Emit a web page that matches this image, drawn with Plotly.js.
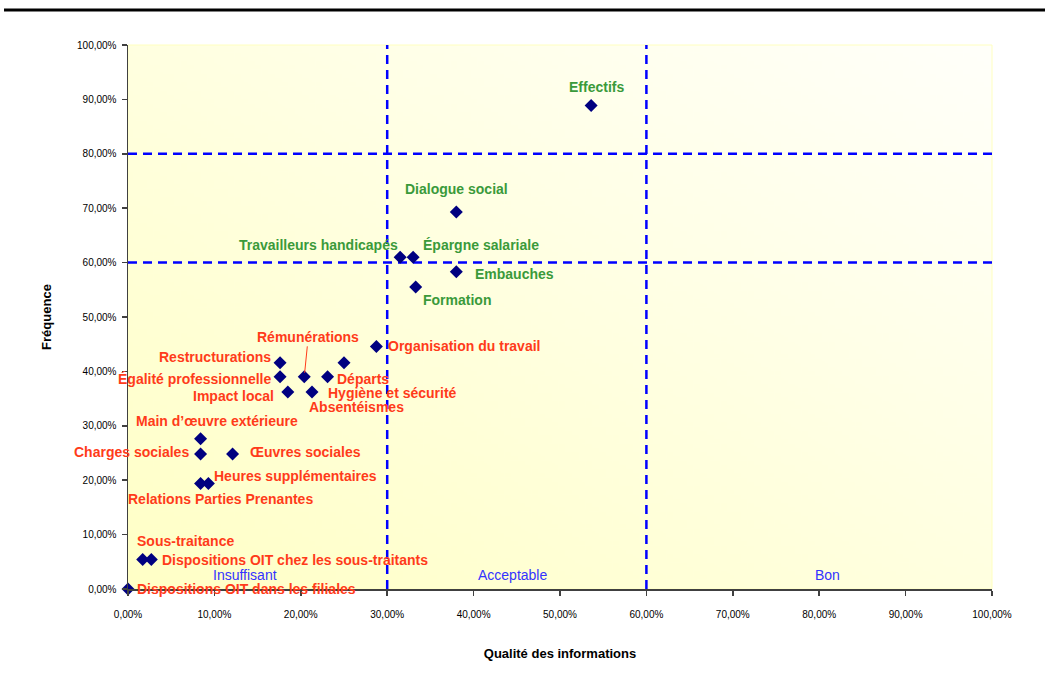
<!DOCTYPE html>
<html>
<head>
<meta charset="utf-8">
<script src="https://cdn.plot.ly/plotly-3.0.1.min.js"></script>
<style>
  html, body { margin: 0; padding: 0; background: #ffffff; }
  #chart { width: 1045px; height: 677px; }
</style>
</head>
<body>
<div id="chart"></div>
<script>
// Thèmes évalués : qualité des informations (x) et fréquence (y), en %
const themes = [
  'Effectifs', 'Dialogue social', 'Travailleurs handicapés', 'Épargne salariale',
  'Embauches', 'Formation', 'Organisation du travail', 'Restructurations',
  'Égalité professionnelle', 'Impact local', 'Rémunérations', 'Départs',
  'Hygiène et sécurité', 'Absentéismes', 'Main d’œuvre extérieure', 'Charges sociales',
  'Œuvres sociales', 'Heures supplémentaires', 'Relations Parties Prenantes', 'Sous-traitance',
  'Dispositions OIT chez les sous-traitants', 'Dispositions OIT dans les filiales'
];
const qualite = [
  53.6, 38.0, 31.5, 33.0,
  38.0, 33.3, 28.75, 17.6,
  17.6, 18.5, 20.4, 23.1,
  21.3, 25.0, 8.4, 8.4,
  12.1, 9.3, 8.4, 1.7,
  2.7, 0.0
];
const frequence = [
  88.9, 69.3, 61.0, 61.0,
  58.3, 55.5, 44.6, 41.6,
  39.0, 36.2, 39.0, 39.0,
  36.2, 41.6, 27.6, 24.8,
  24.8, 19.4, 19.4, 5.4,
  5.4, 0.0
];

// Seuils des zones et leurs libellés
const seuilsQualite = [30, 60];
const seuilsFrequence = [60, 80];
const zones = ['Insuffisant', 'Acceptable', 'Bon'];
const zonesX = [13.5, 44.5, 81.0];

// Graduations des axes
const tickPct = [0, 10, 20, 30, 40, 50, 60, 70, 80, 90, 100];
const tickText = ['0,00%', '10,00%', '20,00%', '30,00%', '40,00%', '50,00%',
                  '60,00%', '70,00%', '80,00%', '90,00%', '100,00%'];

// Placement des étiquettes autour des points (ancrage, décalage en px)
const placement = [
  ['center', 5, 18], ['center', 0, 23], ['right', 0, 12], ['left', 8, 12],
  ['left', 17, -2], ['left', 5, -13], ['left', 10, 0], ['right', -7, 6],
  ['right', -7, -2], ['right', -12, -4], ['arrow', 4, -40], ['left', 7, -2],
  ['left', 14, -1], ['center', 12, -44], ['center', 16, 18], ['right', -10, 2],
  ['left', 15, 2], ['left', 4, 7], ['center', 20, -16], ['left', -8, 19],
  ['left', 9, 0], ['left', 7, 0]
];

const SANS = '"Liberation Sans", Arial, sans-serif';
const ROUGE = '#FF3B1A';
const VERT = '#3A9A3A';
const BLEU = '#0000FF';

// Fond dégradé de la zone de tracé
function fondDegrade() {
  const c = document.createElement('canvas');
  c.width = 256; c.height = 256;
  const g = c.getContext('2d');
  const grad = g.createLinearGradient(0, 256, 256, 0);
  grad.addColorStop(0, '#FFFFC6');
  grad.addColorStop(1, '#FFFFFA');
  g.fillStyle = grad;
  g.fillRect(0, 0, 256, 256);
  return c.toDataURL('image/png');
}

const annotations = themes.map((t, i) => {
  const [anchor, dx, dy] = placement[i];
  const color = frequence[i] >= 50 ? VERT : ROUGE;
  const base = {
    x: qualite[i], y: frequence[i], xref: 'x', yref: 'y', text: t,
    font: { family: SANS, size: 14, color: color, weight: 'bold' }
  };
  if (anchor === 'arrow') {
    return Object.assign(base, {
      showarrow: true, ax: dx, ay: dy, arrowhead: 0, arrowwidth: 1,
      arrowcolor: color, standoff: 4
    });
  }
  return Object.assign(base, {
    showarrow: false, xanchor: anchor, yanchor: 'middle', xshift: dx, yshift: dy
  });
});

zones.forEach((z, i) => {
  annotations.push({
    x: zonesX[i], y: 2.5, xref: 'x', yref: 'y', text: z, showarrow: false,
    font: { family: SANS, size: 14, color: '#3333FF' }
  });
});

const shapes = [];
seuilsQualite.forEach(v => shapes.push({
  type: 'line', xref: 'x', yref: 'y', x0: v, x1: v, y0: 0, y1: 100, layer: 'below',
  line: { color: BLEU, width: 2.5, dash: '9px,6px' }
}));
seuilsFrequence.forEach(v => shapes.push({
  type: 'line', xref: 'x', yref: 'y', x0: 0, x1: 100, y0: v, y1: v, layer: 'below',
  line: { color: BLEU, width: 2.5, dash: '9px,6px' }
}));
// Cadre clair de la zone de tracé
shapes.push({
  type: 'rect', xref: 'paper', yref: 'paper', x0: 0, x1: 1, y0: 0, y1: 1, layer: 'below',
  line: { color: '#FFFFC0', width: 1 }
});
// Filet noir en tête de page
shapes.push({
  type: 'line', xref: 'paper', yref: 'paper', x0: -0.1435, x1: 1.07, y0: 1.0643, y1: 1.0643,
  line: { color: '#000000', width: 3 }
});

const trace = {
  type: 'scatter', mode: 'markers', x: qualite, y: frequence, text: themes,
  marker: { symbol: 'diamond', size: 10, color: '#000080' },
  cliponaxis: false, hoverinfo: 'text'
};

const axisCommon = {
  range: [0, 100], tickvals: tickPct, ticktext: tickText,
  showgrid: false, zeroline: false, showline: true, linecolor: '#404040', linewidth: 1.5,
  ticks: 'outside', ticklen: 5, tickcolor: '#404040', tickwidth: 1.5,
  tickfont: { family: SANS, size: 10, color: '#000000' },
  fixedrange: true
};

const layout = {
  width: 1045, height: 677,
  margin: { l: 128, r: 53, t: 45, b: 88 },
  paper_bgcolor: '#ffffff', plot_bgcolor: 'rgba(0,0,0,0)',
  showlegend: false,
  xaxis: Object.assign({}, axisCommon, {
    ticklabelstandoff: 10,
    title: { text: 'Qualité des informations', standoff: 30,
             font: { family: SANS, size: 13, color: '#000000', weight: 'bold' } }
  }),
  yaxis: Object.assign({}, axisCommon, {
    ticklabelstandoff: 3,
    title: { text: 'Fréquence', standoff: 22,
             font: { family: SANS, size: 13, color: '#000000', weight: 'bold' } }
  }),
  images: [{
    source: fondDegrade(), xref: 'paper', yref: 'paper', x: 0, y: 1,
    sizex: 1, sizey: 1, sizing: 'stretch', layer: 'below'
  }],
  shapes: shapes,
  annotations: annotations
};

Plotly.newPlot('chart', [trace], layout, { displayModeBar: false, staticPlot: true });
</script>
</body>
</html>
